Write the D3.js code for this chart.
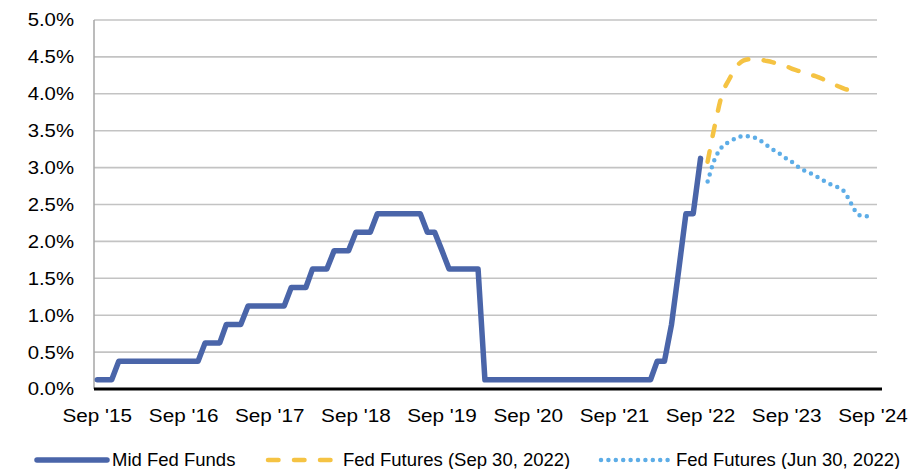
<!DOCTYPE html>
<html>
<head>
<meta charset="utf-8">
<script src="https://cdn.jsdelivr.net/npm/d3@7"></script>
<style>
  body { margin: 0; background: #fff; }
  text { font-family: "Liberation Sans", Arial, sans-serif; fill: #000; }
</style>
</head>
<body>
<div id="chart"></div>
<script>
// monthly mid fed funds rate, Sep 2015 .. Sep 2022
const fundsStart = "2015-09-01"
const midFedFunds = [
  0.125, 0.125, 0.125, 0.375,                                                   // 2015 Sep-Dec
  0.375, 0.375, 0.375, 0.375, 0.375, 0.375, 0.375, 0.375, 0.375, 0.375, 0.375, 0.625, // 2016
  0.625, 0.625, 0.875, 0.875, 0.875, 1.125, 1.125, 1.125, 1.125, 1.125, 1.125, 1.375, // 2017
  1.375, 1.375, 1.625, 1.625, 1.625, 1.875, 1.875, 1.875, 2.125, 2.125, 2.125, 2.375, // 2018
  2.375, 2.375, 2.375, 2.375, 2.375, 2.375, 2.125, 2.125, 1.875, 1.625, 1.625, 1.625, // 2019
  1.625, 1.625, 0.125, 0.125, 0.125, 0.125, 0.125, 0.125, 0.125, 0.125, 0.125, 0.125, // 2020
  0.125, 0.125, 0.125, 0.125, 0.125, 0.125, 0.125, 0.125, 0.125, 0.125, 0.125, 0.125, // 2021
  0.125, 0.125, 0.375, 0.375, 0.875, 1.625, 2.375, 2.375, 3.125                  // 2022 Jan-Sep
]

// futures curves, monthly from Oct 2022
const futuresStart = "2022-10-01"
// Oct 2022 .. Jul 2024
const futuresSep30 = [
  3.08, 3.58, 3.99, 4.20, 4.37, 4.45, 4.47, 4.47, 4.45, 4.43, 4.40, 4.37,
  4.33, 4.30, 4.26, 4.24, 4.20, 4.15, 4.11, 4.07, 4.04, 4.00
]
// Oct 2022 .. Sep 2024
const futuresJun30 = [
  2.81, 3.12, 3.28, 3.35, 3.40, 3.43, 3.42, 3.39, 3.32, 3.25, 3.19, 3.12,
  3.06, 2.98, 2.94, 2.89, 2.83, 2.78, 2.74, 2.68, 2.51, 2.36, 2.34, 2.34
]

const yTicks = [0, 0.5, 1, 1.5, 2, 2.5, 3, 3.5, 4, 4.5, 5]
const xTickYears = [2015, 2016, 2017, 2018, 2019, 2020, 2021, 2022, 2023, 2024]

const seriesNames = ["Mid Fed Funds", "Fed Futures (Sep 30, 2022)", "Fed Futures (Jun 30, 2022)"]

function toPoints(start, values) {
  let d0 = new Date(start + "T00:00:00Z")
  return values.map(function(v, i) {
    return { date: d3.utcMonth.offset(d0, i), value: v }
  })
}

let width = 923
let height = 469

let svg = d3.select("#chart")
  .append("svg")
  .attr("width", width)
  .attr("height", height)

let x = d3.scaleUtc()
  .domain([new Date(Date.UTC(2015, 8, 1)), new Date(Date.UTC(2024, 8, 1))])
  .range([97.3, 873])

let y = d3.scaleLinear()
  .domain([0, 5])
  .range([389, 20])

let plotLeft = 94, plotRight = 877

// gridlines
svg.append("g")
  .selectAll("line")
  .data(yTicks.filter(d => d > 0))
  .enter().append("line")
  .attr("x1", plotLeft)
  .attr("x2", plotRight)
  .attr("y1", d => y(d))
  .attr("y2", d => y(d))
  .attr("stroke", "#c3c3c3")
  .attr("stroke-width", 1.6)

// left axis line
svg.append("line")
  .attr("x1", plotLeft).attr("x2", plotLeft)
  .attr("y1", y(5)).attr("y2", y(0))
  .attr("stroke", "#a6a6a6")
  .attr("stroke-width", 1.5)

// y labels (the original font is a bit wider, so stretch it)
svg.append("g")
  .selectAll("text")
  .data(yTicks)
  .enter().append("text")
  .attr("transform", d => "translate(74," + y(d) + ") scale(1.1,1)")
  .attr("dy", "0.35em")
  .attr("text-anchor", "end")
  .style("font-size", "18.5px")
  .text(d => d3.format(".1f")(d) + "%")

// x labels
svg.append("g")
  .selectAll("text")
  .data(xTickYears)
  .enter().append("text")
  .attr("transform", d => "translate(" + x(new Date(Date.UTC(d, 8, 1))) + ",422) scale(1.12,1)")
  .attr("text-anchor", "middle")
  .style("font-size", "18.5px")
  .text(d => "Sep '" + String(d).slice(2))

let line = d3.line()
  .x(d => x(d.date))
  .y(d => y(d.value))

let smooth = d3.line()
  .x(d => x(d.date))
  .y(d => y(d.value))
  .curve(d3.curveMonotoneX)

// futures
svg.append("path")
  .datum(toPoints(futuresStart, futuresSep30))
  .attr("d", smooth)
  .attr("fill", "none")
  .attr("stroke", "#f5c343")
  .attr("stroke-width", 4.5)
  .attr("stroke-linecap", "round")
  .attr("stroke-dasharray", "10.5,15.5")

svg.append("path")
  .datum(toPoints(futuresStart, futuresJun30))
  .attr("d", smooth)
  .attr("fill", "none")
  .attr("stroke", "#5dade7")
  .attr("stroke-width", 4.5)
  .attr("stroke-linecap", "round")
  .attr("stroke-dasharray", "0,7.4")

// mid fed funds
svg.append("path")
  .datum(toPoints(fundsStart, midFedFunds))
  .attr("d", line)
  .attr("fill", "none")
  .attr("stroke", "#4a65a9")
  .attr("stroke-width", 5.5)
  .attr("stroke-linejoin", "round")
  .attr("stroke-linecap", "round")

// bottom axis
svg.append("line")
  .attr("x1", plotLeft).attr("x2", 882)
  .attr("y1", y(0)).attr("y2", y(0))
  .attr("stroke", "#000")
  .attr("stroke-width", 3)

// legend
let legend = svg.append("g")
let legendItems = [
  { name: seriesNames[0], x1: 37, x2: 107, tx: 112, color: "#4a65a9", w: 5.5, dash: null },
  { name: seriesNames[1], x1: 268, x2: 333, tx: 343, color: "#f5c343", w: 4.5, dash: "10.5,15.5" },
  { name: seriesNames[2], x1: 601, x2: 669, tx: 676, color: "#5dade7", w: 4.5, dash: "0,7.4" }
]

legendItems.forEach(function(d) {
  legend.append("line")
    .attr("x1", d.x1).attr("x2", d.x2)
    .attr("y1", 460).attr("y2", 460)
    .attr("stroke", d.color)
    .attr("stroke-width", d.w)
    .attr("stroke-linecap", "round")
    .attr("stroke-dasharray", d.dash)
  legend.append("text")
    .attr("x", d.tx)
    .attr("y", 466)
    .style("font-size", "18.5px")
    .text(d.name)
})
</script>
</body>
</html>
